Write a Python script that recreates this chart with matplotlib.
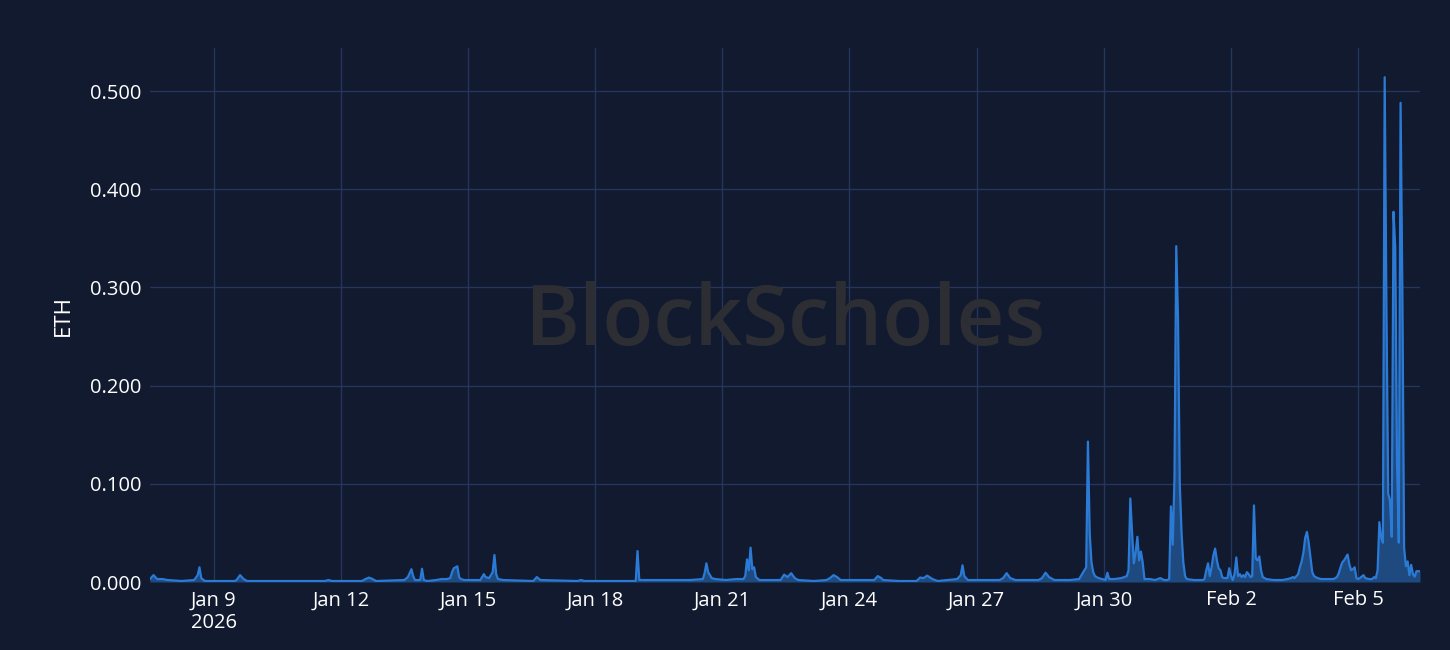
import pandas as pd
import matplotlib.pyplot as plt

plt.rcParams['font.family'] = ['Open Sans', 'DejaVu Sans']

# hourly readings, offsets in hours from the first timestamp
start = pd.Timestamp("2026-01-07 12:00")
hours = [0, 2, 4, 7, 10, 18, 25, 27, 28, 29, 31, 48, 49, 51, 53, 55,
         99, 101, 103, 120, 122, 124, 126, 128, 144, 146, 148, 149, 150,
         153, 154, 155, 157, 162, 165, 168, 170, 171, 172, 173, 174, 175,
         176, 178, 187, 189, 190, 192, 194, 195, 196, 197, 200, 217, 219,
         221, 242, 244, 246, 275, 276, 277, 286, 306, 313, 314, 315, 316,
         317, 318, 320, 326, 332, 336, 337, 338, 339, 340, 341, 342, 343,
         345, 351, 357, 359, 361, 363, 365, 367, 376, 383, 385, 387, 389,
         391, 410, 412, 414, 415, 424, 434, 436, 438, 440, 443, 446, 457,
         459, 460, 461, 463, 472, 481, 483, 485, 487, 490, 497, 503, 505,
         507, 509, 512, 521, 526, 529, 530, 531, 532, 533, 534, 535, 537,
         539, 541, 542, 543, 546, 550, 553, 554, 555, 556, 557, 558, 559,
         560, 561, 562, 563, 566, 569, 572, 574, 576, 577, 578, 579, 580,
         581, 582, 583, 584, 585, 586, 587, 591, 596, 597, 598, 599, 600,
         601, 602, 603, 604, 605, 606, 607, 608, 610, 611, 612, 613, 614,
         615, 616, 617, 618, 619, 620, 621, 622, 623, 624, 625, 626, 627,
         628, 629, 630, 632, 636, 641, 644, 646, 647, 648, 649, 650, 651,
         652, 653, 654, 655, 656, 657, 658, 659, 661, 663, 666, 670, 672,
         673, 674, 675, 676, 677, 678, 679, 680, 681, 682, 683, 684, 685,
         687, 688, 690, 692, 693, 694, 695, 696, 697, 698, 699, 700, 701,
         702, 703, 704, 705, 706, 707, 708, 709, 710, 711, 712, 713, 714,
         715, 716, 717, 718, 719]
eth = [0.003, 0.007, 0.003, 0.003, 0.002, 0.001, 0.002, 0.007, 0.015, 0.004,
       0.001, 0.001, 0.002, 0.007, 0.003, 0.001,
       0.001, 0.002, 0.001, 0.001, 0.003, 0.0045, 0.003, 0.001, 0.002, 0.005,
       0.013, 0.006, 0.002,
       0.002, 0.0135, 0.002, 0.001, 0.002, 0.003, 0.003, 0.004, 0.010, 0.014,
       0.015, 0.016, 0.005,
       0.003, 0.002, 0.002, 0.008, 0.005, 0.004, 0.010, 0.0275, 0.008, 0.003,
       0.002, 0.001, 0.005,
       0.002, 0.001, 0.002, 0.001, 0.001, 0.0315, 0.002, 0.002, 0.002, 0.003,
       0.009, 0.019, 0.010,
       0.007, 0.004, 0.003, 0.002, 0.003, 0.003, 0.006, 0.023, 0.012, 0.035,
       0.013, 0.015, 0.005,
       0.002, 0.002, 0.002, 0.0075, 0.005, 0.009, 0.004, 0.002, 0.001, 0.002,
       0.004, 0.007, 0.005,
       0.002, 0.002, 0.006, 0.004, 0.002, 0.001, 0.001, 0.0045, 0.004, 0.0065,
       0.003, 0.001, 0.003,
       0.007, 0.017, 0.006, 0.002, 0.002, 0.002, 0.004, 0.009, 0.004, 0.002,
       0.002, 0.002, 0.004,
       0.0095, 0.005, 0.002, 0.002, 0.003, 0.012, 0.015, 0.143, 0.050, 0.020,
       0.010, 0.006, 0.004,
       0.003, 0.002, 0.0095, 0.003, 0.003, 0.004, 0.006, 0.012, 0.085, 0.050,
       0.019, 0.030, 0.046,
       0.022, 0.031, 0.020, 0.003, 0.003, 0.002, 0.004, 0.002, 0.002, 0.003,
       0.077, 0.038, 0.107,
       0.342, 0.270, 0.100, 0.050, 0.020, 0.006, 0.003, 0.002, 0.002, 0.003,
       0.012, 0.019, 0.006,
       0.015, 0.027, 0.034, 0.022, 0.014, 0.012, 0.005, 0.004, 0.004, 0.014,
       0.006, 0.002, 0.008,
       0.025, 0.006, 0.008, 0.005, 0.007, 0.005, 0.010, 0.008, 0.005, 0.006,
       0.078, 0.024, 0.022,
       0.026, 0.012, 0.005, 0.003, 0.002, 0.002, 0.003, 0.004, 0.005, 0.004,
       0.006, 0.008, 0.015,
       0.021, 0.030, 0.045, 0.051, 0.040, 0.025, 0.010, 0.006, 0.004, 0.003,
       0.003, 0.003, 0.005,
       0.009, 0.015, 0.020, 0.022, 0.025, 0.028, 0.018, 0.012, 0.013, 0.015,
       0.004, 0.003, 0.004,
       0.007, 0.004, 0.003, 0.003, 0.005, 0.004, 0.012, 0.061, 0.045, 0.040,
       0.514, 0.280, 0.090,
       0.083, 0.046, 0.377, 0.340, 0.120, 0.040, 0.488, 0.300, 0.035, 0.016,
       0.021, 0.007, 0.0175,
       0.008, 0.0055, 0.011, 0.011, 0.011]

tick_dates = ["2026-01-09", "2026-01-12", "2026-01-15", "2026-01-18",
              "2026-01-21", "2026-01-24", "2026-01-27", "2026-01-30",
              "2026-02-02", "2026-02-05"]
tick_labels = ["Jan 9\n2026", "Jan 12", "Jan 15", "Jan 18", "Jan 21",
               "Jan 24", "Jan 27", "Jan 30", "Feb 2", "Feb 5"]
y_ticks = [0.0, 0.1, 0.2, 0.3, 0.4, 0.5]

times = start + pd.to_timedelta(hours, unit="h")

bg = "#111a2e"
grid = "#25355c"
line_c = "#2b7bd6"

fig = plt.figure(figsize=(14.5, 6.5), dpi=100, facecolor=bg)
ax = fig.add_axes([150 / 1450, 1 - 582 / 650, 1270 / 1450, 534 / 650])
ax.set_facecolor(bg)

ax.fill_between(times, eth, 0, color="#1e4a80", linewidth=0, zorder=2)
ax.plot(times, eth, color=line_c, linewidth=1.6, zorder=3)

ax.set_xlim(times[0], times[-1])
ax.set_ylim(0, 0.5438)

ax.set_xticks(pd.to_datetime(tick_dates))
ax.set_xticklabels(tick_labels)
ax.set_yticks(y_ticks)
ax.set_yticklabels([f"{v:.3f}" for v in y_ticks])
ax.tick_params(colors="white", labelsize=14.5, length=0, pad=6)
ax.grid(True, color=grid, linewidth=1, zorder=1)
for s in ax.spines.values():
    s.set_visible(False)

ax.set_ylabel("ETH", color="white", fontsize=16, labelpad=12)

# watermark
fig.text(0.541, 0.503, "BlockScholes", color="#2c2e34", fontsize=60,
         ha="center", va="center", zorder=0, fontweight="semibold")

fig.savefig("out.png", facecolor=bg)
